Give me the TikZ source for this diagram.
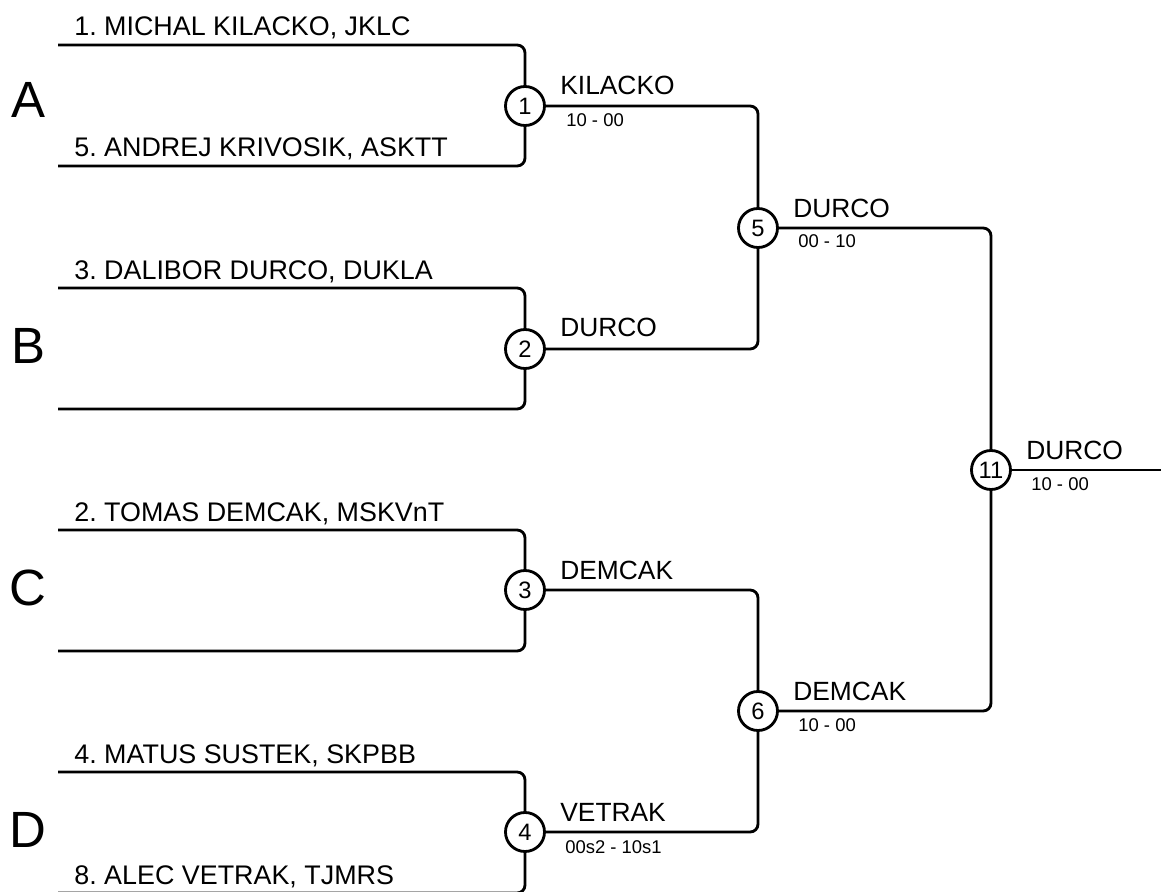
\documentclass[tikz,border=0pt]{standalone}
\usepackage{fontspec}
\setmainfont{Liberation Sans}
\usepackage{tikz}
\usetikzlibrary{positioning,calc}
\frenchspacing

\begin{document}
\begin{tikzpicture}[
  x=0.02cm, y=-0.02cm,
  wire/.style={line width=1.6pt, rounded corners=4.5pt},
  match/.style={draw, circle, line width=1.6pt, minimum size=0.78cm, inner sep=0pt, font=\fontsize{13.5}{14}\selectfont},
  grp/.style={inner sep=0pt, anchor=base, font=\fontsize{29}{30}\selectfont},
  player/.style={inner sep=0pt, anchor=base west, font=\fontsize{15.3}{17}\selectfont},
  winner/.style={inner sep=0pt, anchor=base west, font=\fontsize{15}{17}\selectfont},
  score/.style={inner sep=0pt, anchor=base west, font=\fontsize{10.5}{12}\selectfont},
]
\useasboundingbox (0,0) rectangle (1161,892);

% groups
\node[grp] (gA) at (28,118) {A};
\node[grp] (gB) at (28,363) {B};
\node[grp] (gC) at (28,605) {C};
\node[grp] (gD) at (28,847) {D};

% matches
\node[match] (m1) at (525,106) {1};
\node[match] (m2) at (525,349) {2};
\node[match] (m3) at (525,590) {3};
\node[match] (m4) at (525,832) {4};
\node[match] (m5) at (758,228) {5};
\node[match] (m6) at (758,711) {6};
\node[match] (m11) at (991,470) {11};

% player lines
\coordinate (p1) at (58,45);
\coordinate (p5) at (58,166);
\coordinate (p3) at (58,288);
\coordinate (pB) at (58,409);
\coordinate (p2) at (58,530);
\coordinate (pC) at (58,651);
\coordinate (p4) at (58,772);
\coordinate (p8) at (58,893);
\coordinate (fin) at (1170,470);

\node[player] (n1) at (74,36) {1. MICHAL KILACKO, JKLC};
\node[player] (n5) at (74,157) {5. ANDREJ KRIVOSIK, ASKTT};
\node[player] (n3) at (74,279) {3. DALIBOR DURCO, DUKLA};
\node[player] (n2) at (74,521) {2. TOMAS DEMCAK, MSKVnT};
\node[player] (n4) at (74,763) {4. MATUS SUSTEK, SKPBB};
\node[player] (n8) at (74,884) {8. ALEC VETRAK, TJMRS};

\draw[wire] (p1) -| (m1);
\draw[wire] (p5) -| (m1);
\draw[wire] (p3) -| (m2);
\draw[wire] (pB) -| (m2);
\draw[wire] (p2) -| (m3);
\draw[wire] (pC) -| (m3);
\draw[wire] (p4) -| (m4);
\draw[wire] (p8) -| (m4);

\draw[wire] (m1) -| (m5);
\draw[wire] (m2) -| (m5);
\draw[wire] (m3) -| (m6);
\draw[wire] (m4) -| (m6);
\draw[wire] (m5) -| (m11);
\draw[wire] (m6) -| (m11);
\draw[wire] (m11) -- (fin);

% winners
\node[winner] (w1) at (560,95) {KILACKO};
\node[score] (s1) at (566,127) {10 - 00};
\node[winner] (w2) at (560,337) {DURCO};
\node[winner] (w3) at (560,579) {DEMCAK};
\node[winner] (w4) at (560,821) {VETRAK};
\node[score] (s4) at (565,853) {00s2 - 10s1};
\node[winner] (w5) at (793,217) {DURCO};
\node[score] (s5) at (798,248) {00 - 10};
\node[winner] (w6) at (793,700) {DEMCAK};
\node[score] (s6) at (798,731) {10 - 00};
\node[winner] (w11) at (1026,459) {DURCO};
\node[score] (s11) at (1031,490) {10 - 00};
\end{tikzpicture}
\end{document}
